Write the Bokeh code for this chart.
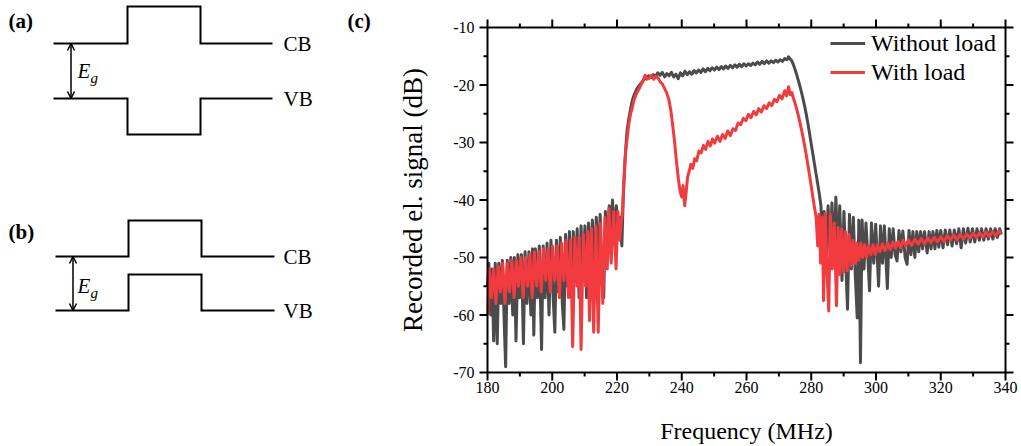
import math
from bokeh.plotting import figure
from bokeh.models import Range1d, Legend, LegendItem, Arrow, OpenHead, Plot
from bokeh.layouts import row
from bokeh.embed import file_html
from bokeh.resources import INLINE
from bokeh.core.properties import value

# ---------------- data: panel (c) ----------------
freq_without = [
    180.0, 180.4, 181.0, 181.4, 181.9, 182.4, 183.0, 183.5, 184.1, 184.6, 185.1, 185.6, 186.1, 186.7, 187.2, 187.8,
    188.3, 188.8, 189.4, 189.9, 190.5, 191.1, 191.6, 192.2, 192.8, 193.4, 193.9, 194.3, 194.8, 195.4, 196.0, 196.7,
    197.2, 197.8, 198.4, 199.0, 199.6, 200.2, 200.8, 201.3, 201.9, 202.5, 203.1, 203.6, 204.1, 204.7, 205.3, 205.9,
    206.5, 207.1, 207.7, 208.3, 208.9, 209.5, 210.1, 210.6, 211.2, 211.8, 212.4, 213.0, 213.6, 214.2, 214.8, 215.4,
    215.9, 216.4, 217.0, 217.6, 218.1, 218.6, 219.2, 219.8, 220.4, 220.9, 221.5, 221.9,
    222.3, 222.7, 223.1, 223.6, 224.1, 224.6, 225.1, 225.7, 226.3, 227.0, 227.7, 228.4, 229.1, 229.8, 230.5, 231.2,
    231.9, 232.6, 233.3, 234.0, 234.7, 235.4, 236.1, 236.8, 237.5, 238.2, 238.9, 239.6, 240.3, 241.0, 241.7, 242.4,
    243.1, 243.8, 244.5, 245.2, 245.9, 246.6, 247.3, 248.0, 248.7, 249.4, 250.1, 250.8, 251.5, 252.2, 252.9, 253.6,
    254.3, 255.0, 255.7, 256.4, 257.1, 257.8, 258.5, 259.2, 259.9, 260.6, 261.3, 262.0, 262.7, 263.4, 264.1, 264.8,
    265.5, 266.2, 266.9, 267.6, 268.3, 269.0, 269.7, 270.4, 271.1, 271.8, 272.5, 273.0, 273.5,
    274.0, 274.5, 275.0, 275.5, 276.0, 276.5, 277.0, 277.5, 278.0, 278.5, 279.0, 279.5, 280.0, 280.5, 281.0, 281.5,
    282.0, 282.5, 283.0,
    283.5, 284.0, 284.6, 285.2, 285.8, 286.4, 287.0, 287.6, 288.2, 288.8, 289.5, 290.1, 290.6, 291.2, 291.8, 292.4,
    293.0, 293.6, 294.2, 294.7, 295.2, 295.7, 296.3, 296.9, 297.5, 298.0, 298.6, 299.3, 299.9, 300.8, 301.4, 302.0,
    302.6, 303.5, 304.1, 304.7, 305.3, 305.9, 306.5, 307.1, 307.7, 308.3, 309.0, 309.6, 310.2, 310.8, 311.4, 312.0,
    312.6, 313.2, 313.8, 314.4, 315.0, 315.8, 316.4, 317.0, 317.6, 318.2, 318.8, 319.4, 320.0, 320.7, 321.4, 322.1,
    322.8, 323.5, 324.2, 324.9, 325.6, 326.3, 327.0, 327.7, 328.4, 329.1, 329.8, 330.5, 331.2, 331.9, 332.6, 333.3,
    334.0, 334.7, 335.4, 336.1, 336.8, 337.5, 338.2, 338.7,
]
signal_without = [
    -55, -51, -60, -52, -64.5, -51, -65, -51, -58, -50.5, -60, -69, -50.5, -58, -50, -60,
    -50, -64.5, -49.5, -57, -49.5, -65, -49, -58, -49, -60, -48.5, -63.5, -48.5, -57, -48, -66,
    -48, -57, -47.5, -60, -47, -56, -63, -47, -56, -46.5, -58, -62.5, -46, -55, -45.5, -57,
    -45.5, -54, -45, -57, -44.5, -53, -44.5, -57, -44, -52, -43.5, -55, -43, -51, -42.5, -54,
    -57, -42, -49, -41, -47, -40, -46, -41, -45, -43, -48, -40,
    -35, -31, -28, -26, -24.5, -23, -22, -21.2, -20.5, -20, -19.5, -19, -18.8, -18.4, -18.7, -18.2,
    -18.5, -17.9, -18.3, -17.8, -18.6, -18, -18.4, -17.8, -18.6, -18.1, -18.9, -17.9, -18.4, -17.6, -18.2, -17.7,
    -18.1, -17.5, -17.9, -17.4, -17.8, -17.2, -17.7, -17.1, -17.5, -17.0, -17.4, -16.9, -17.3, -16.8, -17.2, -16.7,
    -17.1, -16.6, -17.0, -16.5, -16.9, -16.4, -16.8, -16.3, -16.7, -16.3, -16.6, -16.2, -16.5, -16.0, -16.4, -15.9,
    -16.3, -15.8, -16.2, -15.8, -16.1, -15.7, -16.0, -15.6, -15.9, -15.4, -15.6, -15.1, -15.5,
    -15.8, -16.5, -17.3, -18.2, -19.2, -20.2, -21.3, -22.5, -23.8, -25.2, -26.8, -28.5, -30.3, -32, -33.8, -35.5,
    -37.2, -39, -41,
    -48, -42, -50, -41, -49, -40.5, -51, -39.5, -50, -41, -54, -42, -50, -59, -42.5, -52,
    -43, -53, -60.5, -43.5, -68.3, -43.5, -52, -44, -50, -55.8, -44, -51, -44.2, -55, -44.5, -51,
    -44.5, -55.4, -45, -50, -45, -49.5, -50.6, -45.3, -49, -45.4, -50, -51.2, -45.3, -49.5, -45.5, -50,
    -45.5, -49, -45.5, -48.5, -45.5, -49.2, -45.5, -48.5, -45.5, -48.5, -45.3, -48.2, -45.3, -48.3, -45.2, -47.8,
    -45.2, -48, -45.2, -47.6, -45, -48.3, -45, -47.5, -44.9, -47.3, -45, -47.3, -45, -47, -45, -47,
    -45, -46.8, -45, -46.8, -45, -46.5, -45, -46,
]

freq_with = [
    180.1, 180.5, 181.2, 181.9, 182.6, 183.3, 184.0, 184.7, 185.4, 186.1, 186.8, 187.5, 188.2, 188.9, 189.6, 190.3,
    191.0, 191.7, 192.4, 193.1, 193.8, 194.5, 195.2, 195.9, 196.6, 197.3, 198.0, 198.7, 199.4, 200.1, 200.8, 201.5,
    202.2, 202.9, 203.6, 204.3, 205.0, 205.7, 206.3, 207.0, 207.7, 208.3, 208.9, 209.6, 210.3, 211.0, 211.5, 212.1,
    212.8, 213.5, 214.2, 214.9, 215.6, 216.3, 217.0, 217.5, 218.2, 219.0, 219.7, 220.3, 220.8, 221.3, 221.7,
    222.1, 222.6, 223.1, 223.6, 224.2, 224.7, 225.3, 226.0, 226.7, 227.4, 228.0, 228.7, 229.3, 230.0, 230.7, 231.4,
    232.0, 232.7, 233.4, 234.0, 234.7, 235.3, 236.0, 236.6, 237.2, 237.8, 238.4, 239.0, 239.5, 240.0, 240.4, 240.9,
    241.3, 241.8, 242.3, 242.8, 243.4, 244.0, 244.6, 245.3, 246.0, 246.7, 247.4, 248.1, 248.8, 249.5, 250.2, 251.0,
    251.8, 252.6, 253.4, 254.2, 255.0, 255.8, 256.6, 257.4, 258.2, 259.0, 259.8, 260.6, 261.4, 262.2, 263.0, 263.8,
    264.6, 265.4, 266.2, 267.0, 267.8, 268.6, 269.4, 270.2, 271.0, 271.8, 272.4, 273.0, 273.5,
    274.0, 274.5, 275.0, 275.5, 276.0, 276.5, 277.0, 277.5, 278.0, 278.5, 279.0, 279.5, 280.0, 280.5, 281.0, 281.5,
    282.0, 282.4, 282.9, 283.4, 283.8, 284.3, 284.9, 285.4, 285.9, 286.5, 287.1, 287.8, 288.3, 288.9, 289.4, 290.0,
    290.6, 291.1, 291.7, 292.3, 292.9, 293.5, 294.1, 294.7, 295.3, 295.9, 296.5, 297.1, 297.7, 298.4, 299.1, 299.8,
    300.5, 301.2, 302.0, 302.8, 303.6, 304.4, 305.2, 306.0, 306.8, 307.6, 308.4, 309.2, 310.0, 311.0, 312.0, 313.0,
    314.0, 315.0, 316.0, 317.0, 318.0, 319.0, 320.0, 321.0, 322.0, 323.0, 324.0, 325.0, 326.0, 327.0, 328.0, 329.0,
    330.0, 331.0, 332.0, 333.0, 334.0, 335.0, 336.0, 337.0, 338.0, 338.7,
]
signal_with = [
    -60, -52, -57, -52, -58, -51.5, -56, -51, -58, -51, -56, -50.5, -57, -50.5, -55, -50,
    -57, -50, -55, -49.5, -57, -49, -55, -49, -56, -48.5, -54, -48.5, -56, -48, -54, -48,
    -57, -47.5, -54, -47, -57, -47, -65.5, -46.5, -55, -46.5, -66, -46, -55, -45.5, -61, -45,
    -63, -44.5, -63, -44, -58, -43, -52, -41.5, -51, -42, -52, -42, -47, -44, -42,
    -37, -32, -29.5, -27, -25, -24, -22.5, -21.5, -20.8, -20, -19.3, -18.3, -19, -18.8, -18.3, -19,
    -18.5, -18.8, -19.5, -19.8, -20.6, -21.3, -22.5, -24.3, -27, -30, -33.5, -36.5, -38.5, -39.5, -37.5, -41,
    -39, -36, -35, -33.8, -34.5, -32.8, -33.2, -31.5, -31.8, -30.5, -31.2, -29.8, -30.6, -29.4, -30.1, -28.9,
    -29.8, -28.6, -29.3, -28.0, -28.8, -27.6, -27.9, -26.6, -26.9, -25.8, -26.2, -25.1, -25.7, -24.6, -25.2, -24.1,
    -24.7, -23.6, -24.1, -23.1, -23.6, -22.5, -22.9, -21.8, -22.4, -21.0, -21.9, -20.3, -21.7,
    -21.3, -22.3, -23.2, -24.2, -25.3, -26.5, -27.8, -29.2, -30.7, -32.3, -34, -35.8, -37.6, -39.5, -41.3, -43,
    -48, -42.5, -51, -43, -57.5, -42.4, -53, -59.3, -42.5, -52, -44, -58.4, -44.8, -53, -45, -52.5,
    -45.5, -52.3, -46, -51.5, -47, -51, -47.5, -50.5, -47.5, -50, -47.8, -50, -48, -49.5, -47.8, -49.5,
    -47.8, -49, -47.6, -48.8, -47.5, -48.6, -47.3, -48.4, -47.2, -48.3, -47.0, -48.0, -46.9, -47.9, -46.8, -47.7,
    -46.7, -47.6, -46.6, -47.4, -46.5, -47.3, -46.4, -47.2, -46.2, -47.0, -46.1, -46.9, -46.0, -46.8, -45.9, -46.6,
    -45.8, -46.5, -45.7, -46.4, -45.6, -46.3, -45.5, -46.2, -45.4, -45.8,
]

series_labels = ["Without load", "With load"]
series_colors = ["#4b4b4b", "#f23b3f"]
x_label = "Frequency (MHz)"
y_label = "Recorded el. signal (dB)"
x_tick_values = [180, 200, 220, 240, 260, 280, 300, 320, 340]
x_tick_labels = ["180", "200", "220", "240", "260", "280", "300", "320", "340"]
y_tick_values = [-70, -60, -50, -40, -30, -20, -10]
y_tick_labels = ["-70", "-60", "-50", "-40", "-30", "-20", "-10"]
panel_labels = ["(a)", "(b)", "(c)"]

# ---------------- schematic band diagrams (a), (b) ----------------
# drawn in the panel's own pixel-like coordinate frame
cb_a_x = [53, 127, 127, 200, 200, 272]
cb_a_y = [43, 43, 6, 6, 43, 43]
vb_a_x = [53, 127, 127, 200, 200, 272]
vb_a_y = [98, 98, 134, 134, 98, 98]
cb_b_x = [55, 128, 128, 201, 201, 274]
cb_b_y = [256, 256, 220, 220, 256, 256]
vb_b_x = [55, 128, 128, 201, 201, 274]
vb_b_y = [310, 310, 274, 274, 310, 310]
band_names = ["CB", "VB", "CB", "VB"]
band_name_x = [283, 283, 283, 283]
band_name_y = [43, 98, 256, 310]

SERIF = "Liberation Serif"
SERIF_CSS = "'Liberation Serif', 'Times New Roman', serif"

has_frame_align = "frame_align" in Plot.properties()

LEFT_W = 380
left = figure(width=LEFT_W, height=446, x_range=Range1d(0, LEFT_W), y_range=Range1d(446, 0),
              output_backend="svg", toolbar_location=None, x_axis_location=None, y_axis_location=None,
              min_border=0)
if has_frame_align:
    left.frame_align = False
left.grid.visible = False
left.outline_line_color = None
for xs, ys in [(cb_a_x, cb_a_y), (vb_a_x, vb_a_y), (cb_b_x, cb_b_y), (vb_b_x, vb_b_y)]:
    left.line(xs, ys, line_width=2, color="black", line_join="miter")

left.text(x=band_name_x, y=band_name_y, text=band_names, text_font=value(SERIF),
          text_font_size="21px", text_baseline="middle", text_align="left", color="black")

for (xa, y0, y1) in [(70.5, 43, 98), (72.5, 256, 310)]:
    left.add_layout(Arrow(start=OpenHead(size=7, line_width=1.5), end=OpenHead(size=7, line_width=1.5),
                          x_start=xa, y_start=y0, x_end=xa, y_end=y1, line_width=1.5, line_color="black"))

left.text(x=[77, 77], y=[70, 285], text=["E", "E"], text_font=value(SERIF), text_font_style="italic",
          text_font_size="21px", text_baseline="middle", text_align="left", color="black")
left.text(x=[90, 90], y=[77, 292], text=["g", "g"], text_font=value(SERIF), text_font_style="italic",
          text_font_size="15px", text_baseline="middle", text_align="left", color="black")

left.text(x=[8, 8, 347], y=[20, 231, 20], text=panel_labels, text_font=value(SERIF), text_font_style="bold",
          text_font_size="21px", text_baseline="middle", text_align="left", color="black")

# ---------------- panel (c) ----------------
RIGHT_W, RIGHT_H = 1021 - LEFT_W, 446
# plot-area box inside this panel (pixels)
BOX_L, BOX_R, BOX_T, BOX_B = 107, 625, 27, 372
x_min, x_max = x_tick_values[0], x_tick_values[-1]
y_min, y_max = y_tick_values[0], y_tick_values[-1]
kx = (BOX_R - BOX_L) / (x_max - x_min)   # px per MHz
ky = (BOX_B - BOX_T) / (y_max - y_min)   # px per dB

p = figure(width=RIGHT_W, height=RIGHT_H,
           x_range=Range1d(x_min - BOX_L / kx, x_max + (RIGHT_W - BOX_R) / kx),
           y_range=Range1d(y_min - (RIGHT_H - BOX_B) / ky, y_max + BOX_T / ky),
           output_backend="svg", toolbar_location=None, min_border=0,
           x_axis_location=None, y_axis_location=None)
if has_frame_align:
    p.frame_align = False
p.grid.visible = False
p.outline_line_color = None
p.background_fill_color = "white"

# rotated axis title
p.text(x=[x_min - 75 / kx], y=[(y_min + y_max) / 2], text=[y_label], text_font=value(SERIF),
       text_font_size="27px", text_align="center", text_baseline="middle", angle=math.pi / 2, color="black")

r1 = p.line(freq_without, signal_without, line_width=3, color=series_colors[0], line_join="round")
r2 = p.line(freq_with, signal_with, line_width=3, color=series_colors[1], line_join="round")

# box (axis lines)
p.line([x_min, x_max, x_max, x_min, x_min], [y_min, y_min, y_max, y_max, y_min],
       line_width=2, color="black", line_join="miter")

MAJ, MIN = 8, 4
x_minor = [(a + b) / 2 for a, b in zip(x_tick_values[:-1], x_tick_values[1:])]
y_minor = [(a + b) / 2 for a, b in zip(y_tick_values[:-1], y_tick_values[1:])]
for ticks, L in [(x_tick_values, MAJ), (x_minor, MIN)]:
    n = len(ticks)
    p.segment(x0=ticks, y0=[y_min] * n, x1=ticks, y1=[y_min - L / ky] * n, line_width=2, color="black")
    p.segment(x0=ticks, y0=[y_max] * n, x1=ticks, y1=[y_max + L / ky] * n, line_width=2, color="black")
for ticks, L in [(y_tick_values, MAJ), (y_minor, MIN)]:
    n = len(ticks)
    p.segment(x0=[x_min] * n, y0=ticks, x1=[x_min - L / kx] * n, y1=ticks, line_width=2, color="black")
    p.segment(x0=[x_max] * n, y0=ticks, x1=[x_max + L / kx] * n, y1=ticks, line_width=2, color="black")

# tick labels (left-aligned text, shifted by half / full label width)
TICK_PX = 16
xw = 1.5 * TICK_PX          # width of a three-digit label
yw = 1.333 * TICK_PX        # width of "-NN"
p.text(x=x_tick_values, y=[y_min - (MAJ + 1) / ky] * len(x_tick_values), text=x_tick_labels,
       x_offset=-xw / 2, text_font=value(SERIF), text_font_size=f"{TICK_PX}px",
       text_align="left", text_baseline="top", color="black")
p.text(x=[x_min - (MAJ + 5 + yw) / kx] * len(y_tick_values), y=y_tick_values, text=y_tick_labels,
       text_font=value(SERIF), text_font_size=f"{TICK_PX}px",
       text_align="left", text_baseline="middle", color="black")

# x axis title
XL_PX = 24
p.text(x=[(x_min + x_max) / 2], y=[y_min - 58 / ky], text=[x_label], text_font=value(SERIF),
       x_offset=-7.19 * XL_PX / 2, text_font_size=f"{XL_PX}px", text_align="left", text_baseline="middle",
       color="black")

legend = Legend(items=[LegendItem(label=series_labels[0], renderers=[r1]),
                       LegendItem(label=series_labels[1], renderers=[r2])],
                location=(450, 360), border_line_color=None, background_fill_alpha=0,
                label_text_font=SERIF_CSS, label_text_font_size="24px", label_text_color="black",
                glyph_width=35, glyph_height=28, label_height=28, spacing=1,
                padding=3, margin=0, label_standoff=6)
p.add_layout(legend)

layout = row(left, p)
open("out.html", "w").write(file_html(layout, INLINE))
